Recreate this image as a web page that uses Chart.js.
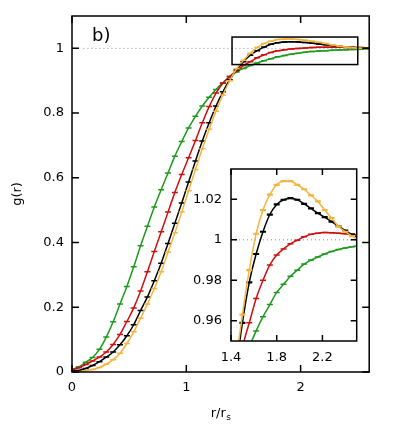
<!DOCTYPE html>
<html>
<head>
<meta charset="utf-8">
<script src="https://cdn.jsdelivr.net/npm/chart.js@4.4.0/dist/chart.umd.min.js"></script>
<style>
  html, body { margin: 0; padding: 0; background: #fff; }
  #wrap { position: relative; width: 395px; height: 439px; }
  #main { position: absolute; left: 0; top: 0; width: 395px; height: 439px; }
  #inset { position: absolute; left: 170px; top: 150px; width: 200px; height: 222px; }
</style>
</head>
<body>
<div id="wrap">
  <canvas id="main" width="395" height="439"></canvas>
  <canvas id="inset" width="200" height="222"></canvas>
</div>
<script>
// r / r_s sample points
const r = [0, 0.06, 0.12, 0.18, 0.24, 0.30, 0.36, 0.42, 0.48, 0.54, 0.60, 0.66, 0.72, 0.78, 0.84,
  0.90, 0.96, 1.02, 1.08, 1.14, 1.20, 1.26, 1.32, 1.38, 1.44, 1.50, 1.56, 1.62, 1.68, 1.74,
  1.80, 1.86, 1.92, 1.98, 2.04, 2.10, 2.16, 2.22, 2.28, 2.34, 2.40, 2.46, 2.52, 2.58, 2.64];

// g(r) for the four curves
const gGreen = [0.008, 0.016, 0.030, 0.045, 0.070, 0.108, 0.155, 0.210, 0.264, 0.325, 0.390, 0.450,
  0.510, 0.563, 0.615, 0.667, 0.712, 0.754, 0.790, 0.822, 0.849, 0.873, 0.894, 0.913, 0.927,
  0.938, 0.947, 0.955, 0.962, 0.968, 0.974, 0.978, 0.982, 0.985, 0.988, 0.990, 0.9915, 0.993,
  0.9942, 0.9952, 0.996, 0.9966, 0.9972, 0.9978, 0.998];
const gRed = [0.006, 0.013, 0.023, 0.034, 0.046, 0.062, 0.085, 0.116, 0.156, 0.198, 0.250, 0.310,
  0.372, 0.433, 0.494, 0.555, 0.610, 0.662, 0.715, 0.770, 0.820, 0.862, 0.892, 0.913, 0.931,
  0.947, 0.959, 0.971, 0.980, 0.9876, 0.9925, 0.9955, 0.998, 0.9998, 1.0015, 1.0027, 1.0033,
  1.0036, 1.0035, 1.0033, 1.003, 1.0027, 1.0023, 1.002, 1.0018];
const gBlack = [0.002, 0.005, 0.011, 0.020, 0.032, 0.046, 0.062, 0.084, 0.112, 0.146, 0.190, 0.232,
  0.282, 0.336, 0.397, 0.460, 0.522, 0.587, 0.652, 0.714, 0.770, 0.822, 0.866, 0.903, 0.934,
  0.959, 0.979, 0.993, 1.004, 1.0125, 1.0175, 1.0198, 1.0206, 1.0198, 1.0178, 1.0155, 1.0132,
  1.0112, 1.009, 1.0068, 1.0046, 1.0026, 1.0008, 1.0, 0.9995];
const gOrange = [0.0, 0.001, 0.004, 0.008, 0.014, 0.024, 0.038, 0.058, 0.088, 0.124, 0.166, 0.210,
  0.258, 0.310, 0.370, 0.430, 0.494, 0.560, 0.626, 0.690, 0.750, 0.806, 0.856, 0.900, 0.937,
  0.963, 0.985, 1.003, 1.0147, 1.0223, 1.0272, 1.029, 1.029, 1.0272, 1.025, 1.022, 1.019,
  1.0147, 1.0107, 1.0067, 1.004, 1.0018, 1.0, 0.9995, 0.9995];

// dotted reference g = 1
const refR = [0.1, 2.6];
const refG = [1, 1];

// axes
const xTicks = [0, 1, 2];
const yTicks = [0, 0.2, 0.4, 0.6, 0.8, 1];
const insetXTicks = [1.4, 1.8, 2.2];
const insetYTicks = [0.96, 0.98, 1, 1.02];
const mainRange = { xMin: 0, xMax: 2.6, yMin: 0, yMax: 1.1 };
const insetRange = { xMin: 1.4, xMax: 2.5, yMin: 0.95, yMax: 1.035 };

const FONT = 'DejaVu Sans';

const series = [
  { g: gGreen, color: '#1d9a1d', order: 4, markW: 1.5 },
  { g: gRed, color: '#cc1010', order: 3, markW: 1.5 },
  { g: gBlack, color: '#000000', order: 2, markW: 2.2 },
  { g: gOrange, color: '#f2b53f', order: 1, markW: 2.2 },
];

function pairs(xs, ys) {
  return xs.map((x, i) => ({ x: x, y: ys[i] }));
}

// markers are short horizontal bars sitting on the curve
function makeDatasets(inset) {
  const sets = series.map(s => ({
    data: pairs(r, s.g),
    borderColor: s.color,
    backgroundColor: s.color,
    borderWidth: 1.5,
    cubicInterpolationMode: 'monotone',
    pointStyle: 'line',
    pointRadius: 3,
    pointBorderWidth: inset ? s.markW : 1.5,
    pointBorderColor: s.color,
    pointBackgroundColor: s.color,
    order: s.order,
  }));
  sets.push({
    data: inset ? pairs([insetRange.xMin, insetRange.xMax], refG) : pairs(refR, refG),
    borderColor: '#8a8a8a',
    borderWidth: 1,
    borderDash: [1, 3],
    pointRadius: 0,
    order: 10,
  });
  return sets;
}

const fmt = v => String(Math.round(v * 100) / 100);

function axis(opts) {
  return {
    type: 'linear',
    position: opts.position,
    min: opts.min,
    max: opts.max,
    afterBuildTicks: s => { s.ticks = opts.ticks.map(v => ({ value: v })); },
    afterFit: s => { if (opts.position === 'bottom') s.height = opts.size; else s.width = opts.size; },
    grid: { display: false, drawTicks: false },
    border: { display: false },
    ticks: {
      padding: opts.padding, color: '#000', autoSkip: false, maxRotation: 0,
      font: { family: FONT, size: 13 }, callback: fmt,
    },
    title: opts.title || { display: false },
  };
}

// frame + inward ticks on all four sides
function framePlugin(len) {
  return {
    id: 'frame',
    afterDatasetsDraw(chart) {
      const { ctx, chartArea: a, scales: { x, y } } = chart;
      ctx.save();
      ctx.strokeStyle = '#000';
      ctx.lineWidth = 1.5;
      ctx.beginPath();
      x.ticks.forEach(t => {
        const px = x.getPixelForValue(t.value);
        ctx.moveTo(px, a.bottom); ctx.lineTo(px, a.bottom - len);
        ctx.moveTo(px, a.top); ctx.lineTo(px, a.top + len);
      });
      y.ticks.forEach(t => {
        const py = y.getPixelForValue(t.value);
        ctx.moveTo(a.left, py); ctx.lineTo(a.left + len, py);
        ctx.moveTo(a.right, py); ctx.lineTo(a.right - len, py);
      });
      ctx.stroke();
      ctx.strokeRect(a.left, a.top, a.right - a.left, a.bottom - a.top);
      ctx.restore();
    }
  };
}

const mainExtras = {
  id: 'mainExtras',
  afterDatasetsDraw(chart) {
    const { ctx, scales: { x, y } } = chart;
    ctx.save();
    // zoom window
    ctx.strokeStyle = '#000';
    ctx.lineWidth = 1.5;
    const x0 = x.getPixelForValue(insetRange.xMin), x1 = x.getPixelForValue(insetRange.xMax);
    const y0 = y.getPixelForValue(insetRange.yMax), y1 = y.getPixelForValue(insetRange.yMin);
    ctx.strokeRect(x0, y0, x1 - x0, y1 - y0);
    // panel label
    ctx.fillStyle = '#000';
    ctx.font = '18px ' + FONT;
    ctx.textBaseline = 'alphabetic';
    ctx.textAlign = 'left';
    ctx.fillText('b)', 92, 41);
    // x title r/r_s
    ctx.font = '13px ' + FONT;
    const w1 = ctx.measureText('r/r').width;
    ctx.font = '9px ' + FONT;
    const w2 = ctx.measureText('s').width;
    const cx = (chart.chartArea.left + chart.chartArea.right) / 2;
    const sx = cx - (w1 + w2) / 2;
    ctx.font = '13px ' + FONT;
    ctx.fillText('r/r', sx, 416.5);
    ctx.font = '9px ' + FONT;
    ctx.fillText('s', sx + w1 + 0.5, 420);
    ctx.restore();
  }
};

new Chart(document.getElementById('main'), {
  type: 'line',
  data: { datasets: makeDatasets(false) },
  options: {
    responsive: false, animation: false, devicePixelRatio: 1,
    layout: { padding: { top: 16, right: 25.8, left: 0, bottom: 0 } },
    plugins: { legend: { display: false }, tooltip: { enabled: false } },
    scales: {
      x: axis({ position: 'bottom', min: mainRange.xMin, max: mainRange.xMax, ticks: xTicks, size: 67, padding: 8 }),
      y: axis({
        position: 'left', min: mainRange.yMin, max: mainRange.yMax, ticks: yTicks, size: 72, padding: 8,
        title: { display: true, text: 'g(r)', color: '#000', font: { family: FONT, size: 13 }, padding: { top: 10, bottom: 0 } },
      }),
    },
  },
  plugins: [framePlugin(7), mainExtras],
});

new Chart(document.getElementById('inset'), {
  type: 'line',
  data: { datasets: makeDatasets(true) },
  options: {
    responsive: false, animation: false, devicePixelRatio: 1,
    layout: { padding: { top: 19, right: 13.3, left: 0, bottom: 0 } },
    plugins: { legend: { display: false }, tooltip: { enabled: false } },
    scales: {
      x: axis({ position: 'bottom', min: insetRange.xMin, max: insetRange.xMax, ticks: insetXTicks, size: 31, padding: 9 }),
      y: axis({ position: 'left', min: insetRange.yMin, max: insetRange.yMax, ticks: insetYTicks, size: 61, padding: 9 }),
    },
  },
  plugins: [framePlugin(6)],
});
</script>
</body>
</html>
